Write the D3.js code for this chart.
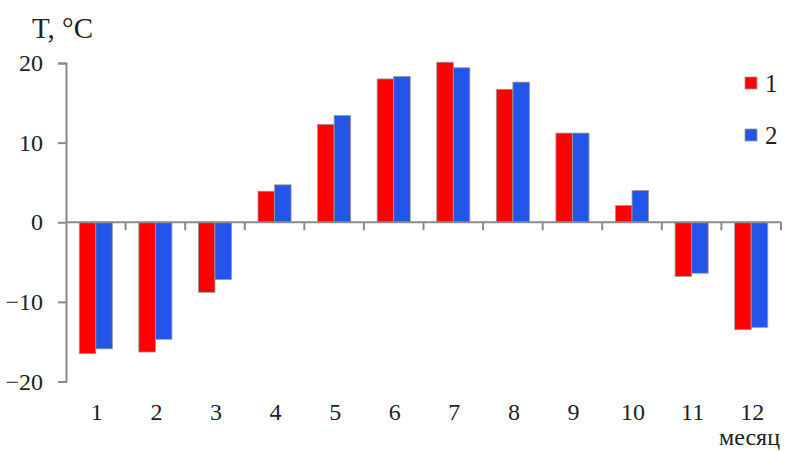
<!DOCTYPE html>
<html>
<head>
<meta charset="utf-8">
<script src="https://cdn.jsdelivr.net/npm/d3@7"></script>
<style>
  html, body { margin: 0; padding: 0; background: #fff; }
  svg { display: block; }
</style>
</head>
<body>
<svg id="chart" width="787" height="451"></svg>
<script>
// Monthly mean temperature, two series
const months = ["1", "2", "3", "4", "5", "6", "7", "8", "9", "10", "11", "12"];
const seriesNames = ["1", "2"];
const series1 = [-16.5, -16.3, -8.8, 3.9, 12.3, 18.0, 20.1, 16.7, 11.2, 2.1, -6.8, -13.5];
const series2 = [-15.9, -14.7, -7.2, 4.7, 13.4, 18.3, 19.4, 17.6, 11.2, 4.0, -6.4, -13.2];
const yTicks = [-20, -10, 0, 10, 20];
const colors = ["#ff0000", "#2356e8"];

const FONT = '"Liberation Serif", "Times New Roman", serif';
const TEXT_COLOR = "#222";

const svg = d3.select("#chart");
const plotLeft = 66, plotRight = 781, plotTop = 63, plotBottom = 381.5;

const x0 = d3.scaleBand().domain(months).range([plotLeft, plotRight]).padding(0);
const x1 = d3.scaleBand().domain(seriesNames).range([0, x0.bandwidth()])
  .paddingInner(0).paddingOuter(0.8);
const y = d3.scaleLinear().domain([-20, 20]).range([plotBottom, plotTop]);

const axisColor = "#8a8a8a";

// bars
const rows = months.map((m, i) => ({ m, vals: [series1[i], series2[i]] }));
const g = svg.append("g");
rows.forEach(r => {
  r.vals.forEach((v, k) => {
    g.append("rect")
      .attr("x", x0(r.m) + x1(seriesNames[k]))
      .attr("y", y(Math.max(0, v)))
      .attr("width", x1.bandwidth())
      .attr("height", Math.abs(y(v) - y(0)))
      .attr("fill", colors[k])
      .attr("stroke", "#9a9a9a")
      .attr("stroke-width", 0.8);
  });
});

// y axis
const yAxis = d3.axisLeft(y).tickValues(yTicks).tickSize(8).tickPadding(15)
  .tickFormat(d3.format("d"));
const ya = svg.append("g").attr("transform", `translate(${plotLeft},0)`).call(yAxis);
ya.select(".domain").attr("stroke", axisColor).attr("stroke-width", 2);
ya.selectAll(".tick line").attr("stroke", axisColor).attr("stroke-width", 2);
ya.selectAll(".tick text")
  .style("font-family", FONT).style("font-size", "24px").attr("fill", TEXT_COLOR);

// zero line with category separators
const xa = svg.append("g").attr("transform", `translate(0,${y(0)})`);
xa.append("line").attr("x1", plotLeft).attr("x2", plotRight).attr("y1", 0).attr("y2", 0)
  .attr("stroke", axisColor).attr("stroke-width", 2);
const seps = months.slice(1).map(m => x0(m)).concat([plotRight]);
xa.selectAll("line.sep").data(seps).join("line").attr("class", "sep")
  .attr("x1", d => d).attr("x2", d => d).attr("y1", 0).attr("y2", 8)
  .attr("stroke", axisColor).attr("stroke-width", 2);

// month labels along the bottom
svg.append("g").selectAll("text").data(months).join("text")
  .attr("x", d => x0(d) + x0.bandwidth() / 2 + 1)
  .attr("y", 420)
  .attr("text-anchor", "middle")
  .attr("fill", TEXT_COLOR)
  .style("font-family", FONT).style("font-size", "24px")
  .text(d => d);

// axis titles
svg.append("text").attr("x", 32).attr("y", 37.5).attr("fill", TEXT_COLOR)
  .style("font-family", FONT).style("font-size", "29px").text("T, °C");
svg.append("text").attr("x", 719).attr("y", 445).attr("fill", TEXT_COLOR)
  .style("font-family", FONT).style("font-size", "24px").text("месяц");

// legend
const legend = svg.append("g");
seriesNames.forEach((s, k) => {
  const ly = 77 + k * 52;
  legend.append("rect").attr("x", 745).attr("y", ly).attr("width", 12).attr("height", 12)
    .attr("fill", colors[k]).attr("stroke", "#9a9a9a").attr("stroke-width", 0.8);
  legend.append("text").attr("x", 765).attr("y", ly + 14.5).attr("fill", TEXT_COLOR)
    .style("font-family", FONT).style("font-size", "25px").text(s);
});
</script>
</body>
</html>
